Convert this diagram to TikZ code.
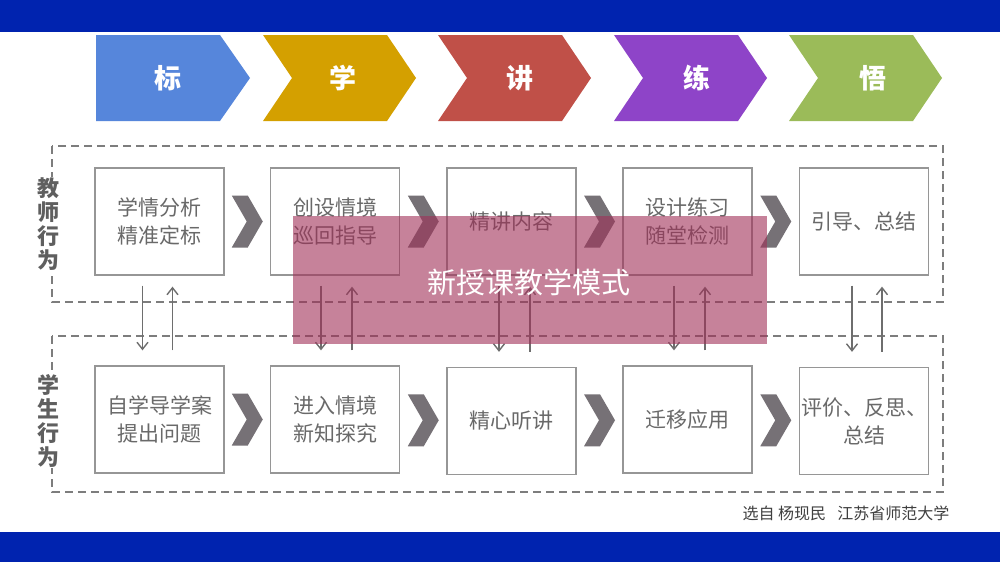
\documentclass[tikz,border=0pt]{standalone}
\usepackage{fontspec}
\setmainfont{Noto Sans CJK SC}
\usetikzlibrary{calc,arrows.meta}
\definecolor{bandblue}{RGB}{0,35,175}
\definecolor{cblue}{RGB}{86,134,219}
\definecolor{cgold}{RGB}{212,160,0}
\definecolor{cred}{RGB}{192,80,72}
\definecolor{cpurple}{RGB}{142,68,200}
\definecolor{cgreen}{RGB}{155,187,89}
\definecolor{boxline}{RGB}{150,150,150}
\definecolor{boxtext}{RGB}{105,105,105}
\definecolor{dashgray}{RGB}{125,125,125}
\definecolor{chevgray}{RGB}{118,113,118}
\definecolor{arrgray}{RGB}{110,110,110}
\definecolor{labgray}{RGB}{95,95,95}
\definecolor{ovpink}{RGB}{160,48,88}
\begin{document}
\begin{tikzpicture}[x=1pt,y=-1pt,
  chevlabel/.style={text=white,font=\fontsize{27}{27}\selectfont\bfseries,inner sep=0pt},
  stagebox/.style={draw=boxline,line width=1.3pt,minimum width=129pt,minimum height=107pt,
    inner sep=0pt,align=center,text=boxtext,font=\fontsize{21}{28}\selectfont},
  dashbox/.style={draw=dashgray,line width=1.8pt,dash pattern=on 8pt off 5pt},
  sidelabel/.style={fill=white,inner sep=1pt,align=center,text=labgray,
    font=\fontsize{22}{24}\selectfont\bfseries},
  flowarrow/.style={draw=arrgray,line width=1.4pt,-{Straight Barb[length=7pt,width=11pt,line width=1.4pt]}},
  smallchev/.pic={\fill[chevgray] (-15.5,-26)--(0.5,-26)--(15.5,0)--(0.5,26)--(-15.5,26)--(-0.5,0)--cycle;}
]
\useasboundingbox (0,0) rectangle (1000,562);
\fill[white] (0,0) rectangle (1000,562);
\fill[bandblue] (0,0) rectangle (1000,32);
\fill[bandblue] (0,532) rectangle (1000,562);

% top chevrons
\fill[cblue] (96,35)--(220,35)--(250,78)--(220,121)--(96,121)--cycle;
\foreach \xo/\col in {263/cgold,438/cred,614/cpurple,789/cgreen}{
  \fill[\col] (\xo,35)--(\xo+124,35)--(\xo+153,78)--(\xo+124,121)--(\xo,121)--(\xo+29,78)--cycle;
}
\node[chevlabel] (c1) at (168,78) {标};
\node[chevlabel] (c2) at (343,78) {学};
\node[chevlabel] (c3) at (520,78) {讲};
\node[chevlabel] (c4) at (697,78) {练};
\node[chevlabel] (c5) at (873,78) {悟};

% dashed frames
\draw[dashbox] (52,146) rectangle (943,302);
\draw[dashbox] (52,336) rectangle (943,492);
\node[sidelabel] (tl) at (48,224.5) {教\\师\\行\\为};
\node[sidelabel] (sl) at (48,420.5) {学\\生\\行\\为};

% teacher boxes
\node[stagebox] (t1) at (159.5,221.5) {学情分析\\精准定标};
\node[stagebox] (t2) at (335,221.5) {创设情境\\巡回指导};
\node[stagebox] (t3) at (511.5,221.5) {精讲内容};
\node[stagebox] (t4) at (687.5,221.5) {设计练习\\随堂检测};
\node[stagebox] (t5) at (864,221.5) {引导、总结};
% student boxes
\node[stagebox] (s1) at (159.5,419.5) {自学导学案\\提出问题};
\node[stagebox] (s2) at (335,419.5) {进入情境\\新知探究};
\node[stagebox] (s3) at (511.5,421) {精心听讲};
\node[stagebox] (s4) at (687.5,419.5) {迁移应用};
\node[stagebox] (s5) at (864,421) {评价、反思、\\总结};

% small chevrons
\foreach \a/\b in {t1/t2,t2/t3,t3/t4,t4/t5,s1/s2,s2/s3,s3/s4,s4/s5}{
  \path ($(\a.east)!0.5!(\b.west)$) pic {smallchev};
}

% vertical arrows
\foreach \i/\dl/\ur in {1/-17/13,2/-14/17,3/-12.5/18.5,4/-13.5/17.5,5/-12/18}{
  \draw[flowarrow] ($(t\i.south)+(\dl,10)$) -- ($(s\i.north)+(\dl,-15)$);
  \draw[flowarrow] ($(s\i.north)+(\ur,-15)$) -- ($(t\i.south)+(\ur,11)$);
}

% overlay
\fill[ovpink,fill opacity=0.6] (293,216) rectangle (767,344);
\node[text=white,font=\fontsize{29}{30}\selectfont,inner sep=0pt] (ov) at (529,282) {新授课教学模式};

% credit
\node[text=black!75,font=\fontsize{16}{16}\selectfont,inner sep=0pt] (cr) at (846,513) {选自 杨现民\hspace{0.7em}江苏省师范大学};
\end{tikzpicture}
\end{document}
